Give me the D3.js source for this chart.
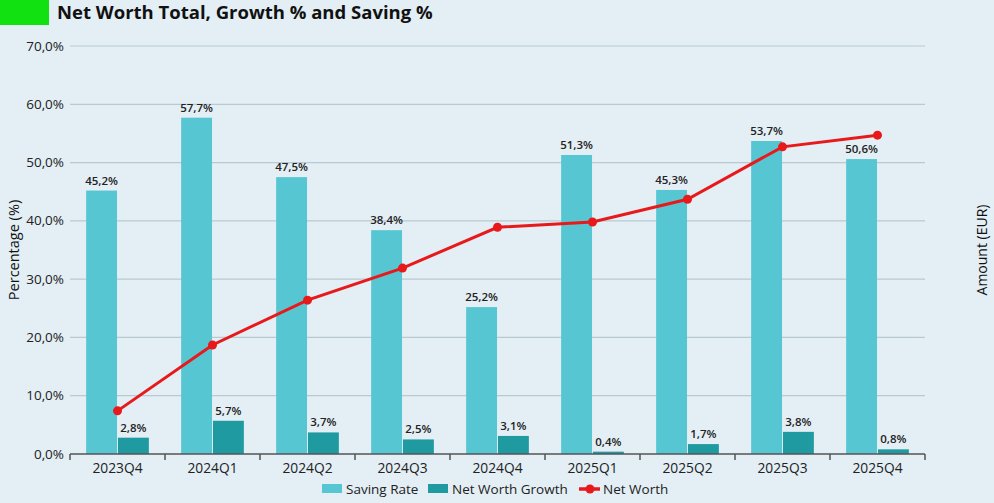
<!DOCTYPE html>
<html><head><meta charset="utf-8">
<script src="https://cdn.jsdelivr.net/npm/d3@7"></script>
<style>
html,body{margin:0;padding:0;background:#e3eef5;}
svg{display:block;font-family:"Open Sans","Noto Sans",sans-serif;}
</style></head><body>
<svg id="c" width="994" height="503"></svg>
<script>
const categories = ["2023Q4","2024Q1","2024Q2","2024Q3","2024Q4","2025Q1","2025Q2","2025Q3","2025Q4"];
const savingRate = [45.2,57.7,47.5,38.4,25.2,51.3,45.3,53.7,50.6];
const netWorthGrowth = [2.8,5.7,3.7,2.5,3.1,0.4,1.7,3.8,0.8];
const netWorth = [7400,18700,26400,31900,38900,39800,43700,52700,54700];
const yTicks = [0,10,20,30,40,50,60,70];

const svg = d3.select("#c");
const W=994,H=503;
const m={l:70,r:69,t:46,b:49};
const x0=d3.scaleBand().domain(categories).range([m.l,W-m.r]).paddingInner(0.34).paddingOuter(0.17);
const x1=d3.scaleBand().domain(["s","g"]).range([0,x0.bandwidth()]).paddingInner(0.03);
const y=d3.scaleLinear().domain([0,70]).range([H-m.b,m.t]);
const y2=d3.scaleLinear().domain([0,70000]).range([H-m.b,m.t]);
const fmt=v=>d3.format(".1f")(v).replace(".",",")+"%";

svg.append("rect").attr("width",W).attr("height",H).attr("fill","#e3eef5");
svg.append("rect").attr("x",0).attr("y",0).attr("width",49).attr("height",25).attr("fill","#11e011");
svg.append("text").attr("x",57).attr("y",19).attr("font-size",18.5).attr("font-weight",700).attr("fill","#111").text("Net Worth Total, Growth % and Saving %");

// grid
svg.append("g").selectAll("line").data(yTicks.filter(d=>d>0)).join("line")
 .attr("x1",m.l).attr("x2",W-m.r).attr("y1",d=>y(d)).attr("y2",d=>y(d))
 .attr("stroke","#b9c9d2").attr("stroke-width",1.2);

// left axis labels
svg.append("g").selectAll("text").data(yTicks).join("text")
 .attr("x",m.l-6).attr("y",d=>y(d)+4.5).attr("text-anchor","end").attr("font-size",13.5).attr("fill","#222").text(fmt);

svg.append("text").attr("transform",`translate(19,${(m.t+H-m.b)/2}) rotate(-90)`).attr("text-anchor","middle").attr("font-size",14.5).attr("fill","#111").text("Percentage (%)");
svg.append("text").attr("transform",`translate(987,${(m.t+H-m.b)/2}) rotate(-90)`).attr("text-anchor","middle").attr("font-size",14).attr("fill","#111").text("Amount (EUR)");

// bars
const g=svg.append("g");
categories.forEach((c,i)=>{
  const bx=x0(c);
  g.append("rect").attr("x",bx+x1("s")).attr("width",x1.bandwidth()).attr("y",y(savingRate[i])).attr("height",y(0)-y(savingRate[i])).attr("fill","#56c6d2");
  g.append("rect").attr("x",bx+x1("g")).attr("width",x1.bandwidth()).attr("y",y(netWorthGrowth[i])).attr("height",y(0)-y(netWorthGrowth[i])).attr("fill","#1f9aa0");
  g.append("text").attr("x",bx+x1("s")+x1.bandwidth()/2).attr("y",y(savingRate[i])-6).attr("text-anchor","middle").attr("font-size",11.5).attr("font-weight",600).attr("fill","#222").text(fmt(savingRate[i]));
  g.append("text").attr("x",bx+x1("g")+x1.bandwidth()/2).attr("y",y(netWorthGrowth[i])-6).attr("text-anchor","middle").attr("font-size",11.5).attr("font-weight",600).attr("fill","#222").text(fmt(netWorthGrowth[i]));
});

// x axis
const xa=svg.append("g");
xa.append("line").attr("x1",m.l).attr("x2",W-m.r).attr("y1",y(0)).attr("y2",y(0)).attr("stroke","#555").attr("stroke-width",1.5);
const step=x0.step();
d3.range(categories.length+1).forEach(i=>{
  const tx=m.l+i*step;
  xa.append("line").attr("x1",tx).attr("x2",tx).attr("y1",y(0)).attr("y2",y(0)+6).attr("stroke","#555").attr("stroke-width",1.5);
});
xa.selectAll("text.cat").data(categories).join("text").attr("class","cat")
 .attr("x",d=>x0(d)+x0.bandwidth()/2).attr("y",y(0)+19).attr("text-anchor","middle").attr("font-size",13.8).attr("fill","#222").text(d=>d);

// line
const cx=i=>x0(categories[i])+x0.bandwidth()/2;
const line=d3.line().x((d,i)=>cx(i)).y(d=>y2(d));
svg.append("path").datum(netWorth).attr("d",line).attr("fill","none").attr("stroke","#e8191a").attr("stroke-width",3);
svg.append("g").selectAll("circle").data(netWorth).join("circle").attr("cx",(d,i)=>cx(i)).attr("cy",d=>y2(d)).attr("r",4.5).attr("fill","#e8191a");

// legend
const lg=svg.append("g").attr("font-size",13.5).attr("fill","#222");
lg.append("rect").attr("x",322).attr("y",484).attr("width",20).attr("height",9).attr("fill","#56c6d2");
lg.append("text").attr("x",346).attr("y",494).text("Saving Rate");
lg.append("rect").attr("x",428).attr("y",484).attr("width",20).attr("height",9).attr("fill","#1f9aa0");
lg.append("text").attr("x",452).attr("y",494).text("Net Worth Growth");
lg.append("line").attr("x1",579).attr("x2",600).attr("y1",489).attr("y2",489).attr("stroke","#e8191a").attr("stroke-width",3.5);
lg.append("circle").attr("cx",590).attr("cy",489).attr("r",4.5).attr("fill","#e8191a");
lg.append("text").attr("x",603).attr("y",494).text("Net Worth");
</script></body></html>
